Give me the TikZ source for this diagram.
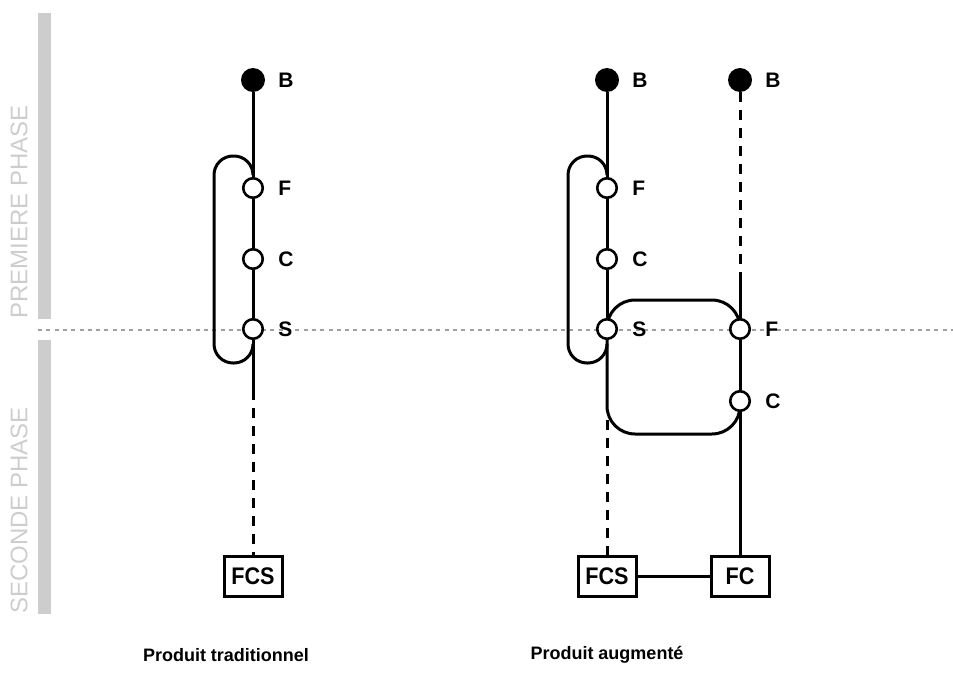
\documentclass[tikz,border=0pt]{standalone}
\usepackage{fontspec}
\setmainfont{Liberation Sans}
\newfontfamily\boxfont[FakeStretch=0.9]{Liberation Sans}
\usetikzlibrary{positioning}
\usepackage{xcolor}
\definecolor{phasegray}{RGB}{205,205,205}
\definecolor{splitgray}{RGB}{160,160,160}

\begin{document}
\begin{tikzpicture}[
        x=1pt, y=-1pt,
        % Spacing between a point and its letter
        node distance=13pt,
        % Style for the open points
        stepdot/.style={circle, draw=black, line width=2.6pt, fill=white, minimum size=19.5pt, inner sep=0pt},
        % Style for the start points
        startdot/.style={circle, fill=black, minimum size=24pt, inner sep=0pt},
        steplbl/.style={font=\bfseries\fontsize{21}{21}\selectfont, inner sep=0pt},
        endbox/.style={rectangle, draw=black, line width=3pt, fill=white, minimum width=58pt, minimum height=40pt, inner sep=0pt, font=\boxfont\bfseries\fontsize{24}{24}\selectfont},
        titlelbl/.style={font=\bfseries\fontsize{18}{18}\selectfont, inner sep=0pt},
        phaselbl/.style={rotate=90, anchor=west, inner sep=0pt, text=phasegray, font=\fontsize{24}{24}\selectfont},
        link/.style={line width=3pt},
        dlink/.style={line width=3pt, dash pattern=on 10pt off 8pt}
    ]
    \useasboundingbox (0,0) rectangle (953,693);

    % --- PHASES ---
    \fill[phasegray] (38,13) rectangle (51,319);
    \fill[phasegray] (38,340) rectangle (51,614);
    \node (phase1) [phaselbl] at (19,319) {PREMIERE PHASE};
    \node (phase2) [phaselbl] at (19,614) {SECONDE PHASE};
    \draw[splitgray, line width=1.3pt, dash pattern=on 4pt off 4.3pt] (38,330) -- (953,330);

    % --- LOOPS ---
    \draw[link, rounded corners=19pt] (253,175) -- (253,156) -- (214,156) -- (214,363) -- (253,363) -- (253,344);
    \draw[link, rounded corners=19pt] (607,175) -- (607,156) -- (568,156) -- (568,363) -- (607,363) -- (607,344);
    \draw[link, rounded corners=28pt] (607,329) -- (607,300) -- (740,300) -- (740,329);
    \draw[link, rounded corners=28pt] (607,329) -- (607,434) -- (740,434) -- (740,401);

    % --- PRODUIT TRADITIONNEL ---
    \node (lB) [startdot] at (253,80) {};
    \node (lF) [stepdot] at (253,188) {};
    \node (lC) [stepdot] at (253,259) {};
    \node (lS) [stepdot] at (253,329) {};
    \node (lFCS) [endbox] at (253,576) {FCS};
    \coordinate (lcut) at (253,400);
    \node [steplbl, right=of lB] {B};
    \node [steplbl, right=14pt of lF] {F};
    \node [steplbl, right=14pt of lC] {C};
    \node [steplbl, right=14pt of lS] {S};

    \draw[link] (lB) -- (lF);
    \draw[link] (lF) -- (lC);
    \draw[link] (lC) -- (lS);
    \draw[link] (lS) -- (lcut);
    \draw[dlink, dash phase=10pt] (lcut) -- (lFCS);

    % --- PRODUIT AUGMENTE ---
    \node (rB) [startdot] at (607,80) {};
    \node (rF) [stepdot] at (607,188) {};
    \node (rC) [stepdot] at (607,259) {};
    \node (rS) [stepdot] at (607,329) {};
    \node (rFCS) [endbox] at (607,576) {FCS};
    \coordinate (rcut) at (607,410);

    \node (sB) [startdot] at (740,80) {};
    \node (sF) [stepdot] at (740,329) {};
    \node (sC) [stepdot] at (740,401) {};
    \node (sFC) [endbox] at (740,576) {FC};
    \coordinate (scut) at (740,272);

    \node [steplbl, right=of rB] {B};
    \node [steplbl, right=14pt of rF] {F};
    \node [steplbl, right=14pt of rC] {C};
    \node [steplbl, right=14pt of rS] {S};
    \node [steplbl, right=of sB] {B};
    \node [steplbl, right=14pt of sF] {F};
    \node [steplbl, right=14pt of sC] {C};

    \draw[link] (rB) -- (rF);
    \draw[link] (rF) -- (rC);
    \draw[link] (rC) -- (rS);
    \draw[dlink, dash phase=8pt] (rcut) -- (rFCS);
    \draw[dlink] (sB) -- (scut);
    \draw[link] (scut) -- (sF);
    \draw[link] (sF) -- (sC);
    \draw[link] (sC) -- (sFC);
    \draw[link] (rFCS) -- (sFC);

    % --- TITLES ---
    \node (trad) [titlelbl] at (226,655) {Produit traditionnel};
    \node (augm) [titlelbl] at (607,655) {Produit augmenté};

\end{tikzpicture}
\end{document}
